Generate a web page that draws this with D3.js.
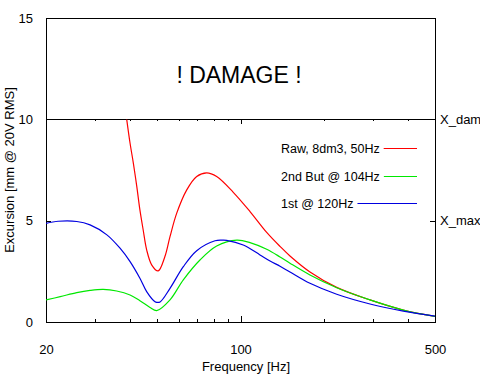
<!DOCTYPE html>
<html>
<head>
<meta charset="utf-8">
<script src="https://cdn.jsdelivr.net/npm/d3@7"></script>
<style>
  body { margin: 0; background: #fff; }
  text { font-family: "Liberation Sans", Arial, sans-serif; fill: #000; }
</style>
</head>
<body>
<div id="app"></div>
<script>
// excursion curves: frequency [Hz] and excursion [mm]
const rawFreq = [39.0, 40.1, 41.2, 42.4, 43.5, 44.7, 46.0, 48.0, 50.6, 53.5, 55.8, 59.0, 64.1, 69.6, 75.6, 82.1, 94.2, 108.2, 124.2, 138.7, 150.6, 177.7, 221.7, 292, 384.6, 500];
const rawExc  = [10.0, 8.82, 7.84, 6.68, 5.53, 4.54, 3.56, 2.81, 2.52, 3.23, 4.21, 5.37, 6.52, 7.18, 7.36, 7.18, 6.40, 5.45, 4.42, 3.73, 3.26, 2.47, 1.71, 1.09, 0.59, 0.28];

const butFreq = [20, 22.5, 25.8, 28.8, 32.1, 35.9, 40.1, 43.5, 47.3, 50.0, 55.8, 62.3, 71.5, 82.1, 97, 108.2, 124.2, 138.7, 150.6, 177.7, 221.7, 292, 384.6, 500];
const butExc  = [1.09, 1.25, 1.45, 1.56, 1.61, 1.53, 1.33, 1.05, 0.72, 0.56, 1.09, 2.08, 3.06, 3.75, 4.04, 3.92, 3.59, 3.21, 2.90, 2.32, 1.69, 1.09, 0.59, 0.28];

const firstFreq = [20, 22.1, 25.8, 28.8, 33.1, 36.9, 40.1, 43.5, 46.0, 49.3, 50.0, 51.4, 55.8, 62.3, 69.6, 81.0, 86, 89.2, 102.3, 117.5, 127.7, 138.7, 150.6, 177.7, 221.7, 292, 384.6, 500];
const firstExc  = [4.87, 4.97, 4.96, 4.79, 4.30, 3.64, 2.98, 2.16, 1.50, 1.00, 0.97, 0.99, 1.66, 2.73, 3.52, 4.01, 4.04, 4.03, 3.80, 3.31, 3.01, 2.75, 2.47, 1.91, 1.37, 0.89, 0.54, 0.29];

const seriesNames = ["Raw, 8dm3, 50Hz", "2nd But @ 104Hz", "1st @ 120Hz"];
const seriesColors = ["#ff0000", "#00e800", "#0000e0"];

const xMajor = [20, 100, 500];
const xMinor = [30, 40, 50, 60, 70, 80, 90, 200, 300, 400];
const yTicks = [0, 5, 10, 15];
const rightTicks = [10, 5];
const rightLabels = ["X_dam", "X_max"];

const W = 480, H = 384;
const margin = { left: 46, right: 45, top: 18, bottom: 62 };
const innerW = W - margin.left - margin.right;
const innerH = H - margin.top - margin.bottom;

const svg = d3.select("#app").append("svg")
  .attr("width", W)
  .attr("height", H);

const g = svg.append("g")
  .attr("transform", `translate(${margin.left},${margin.top})`);

const x = d3.scaleLog().domain([20, 500]).range([0, innerW]);
const y = d3.scaleLinear().domain([0, 15]).range([innerH, 0]);

// clip: curves only live below the damage line
g.append("clipPath").attr("id", "lower")
  .append("rect")
  .attr("x", 0).attr("y", y(10))
  .attr("width", innerW).attr("height", y(0) - y(10));

// axes
const fmt = d3.format("d");

g.append("g")
  .attr("transform", `translate(0,${innerH})`)
  .call(d3.axisBottom(x).tickValues(xMinor).tickSize(-3).tickSizeOuter(0).tickFormat(""));

g.append("g")
  .attr("transform", `translate(0,${innerH})`)
  .call(d3.axisBottom(x).tickValues(xMajor).tickSize(-6).tickSizeOuter(0).tickPadding(23).tickFormat(fmt))
  .call(a => a.selectAll("text").attr("font-size", 13));

// damage line with its own ticks
g.append("g")
  .attr("transform", `translate(0,${y(10)})`)
  .call(d3.axisBottom(x).tickValues(xMinor).tickSize(2).tickSizeOuter(0).tickFormat(""));
g.append("g")
  .attr("transform", `translate(0,${y(10)})`)
  .call(d3.axisBottom(x).tickValues([100]).tickSize(5).tickSizeOuter(0).tickFormat(""));

// top border
g.append("g")
  .call(d3.axisTop(x).tickValues([]).tickSizeOuter(0));

g.append("g")
  .call(d3.axisLeft(y).tickValues(yTicks).tickSize(-5).tickSizeOuter(0).tickPadding(13).tickFormat(fmt))
  .call(a => a.selectAll("text").attr("font-size", 13));

g.append("g")
  .attr("transform", `translate(${innerW},0)`)
  .call(d3.axisRight(y).tickValues(rightTicks).tickSize(-5).tickSizeOuter(0).tickPadding(5)
    .tickFormat((d, i) => rightLabels[i]))
  .call(a => a.selectAll("text").attr("font-size", 13));

g.selectAll(".domain, .tick line").attr("stroke", "#000").attr("shape-rendering", "crispEdges");
g.selectAll(".tick text").attr("font-family", "Liberation Sans, Arial, sans-serif").attr("fill", "#000");

// curves
const line = d3.line()
  .x(d => x(d[0]))
  .y(d => y(d[1]))
  .curve(d3.curveCatmullRom.alpha(0.5));

const series = [
  d3.zip(rawFreq, rawExc),
  d3.zip(butFreq, butExc),
  d3.zip(firstFreq, firstExc)
];

g.append("g").attr("clip-path", "url(#lower)")
  .selectAll("path")
  .data(series)
  .join("path")
  .attr("d", line)
  .attr("fill", "none")
  .attr("stroke", (d, i) => seriesColors[i])
  .attr("stroke-width", 1.2);

// labels
svg.append("text")
  .attr("x", 239).attr("y", 83)
  .attr("text-anchor", "middle")
  .attr("font-size", 23)
  .text("! DAMAGE !");

svg.append("text")
  .attr("x", 246).attr("y", 371)
  .attr("text-anchor", "middle")
  .attr("font-size", 13)
  .text("Frequency [Hz]");

svg.append("text")
  .attr("transform", "translate(14,170) rotate(-90)")
  .attr("text-anchor", "middle")
  .attr("font-size", 13)
  .text("Excursion [mm @ 20V RMS]");

// legend
const legendY = [148, 176, 203];
const legend = svg.append("g");
seriesNames.forEach((name, i) => {
  const t = legend.append("text")
    .attr("x", 281).attr("y", legendY[i] + 4.5)
    .attr("font-size", 12.5)
    .text(name);
  const end = 281 + t.node().getComputedTextLength();
  legend.append("line")
    .attr("x1", end + 4).attr("x2", 417)
    .attr("y1", legendY[i] + 0.5).attr("y2", legendY[i] + 0.5)
    .attr("stroke", seriesColors[i])
    .attr("stroke-width", 1.2);
});
</script>
</body>
</html>
